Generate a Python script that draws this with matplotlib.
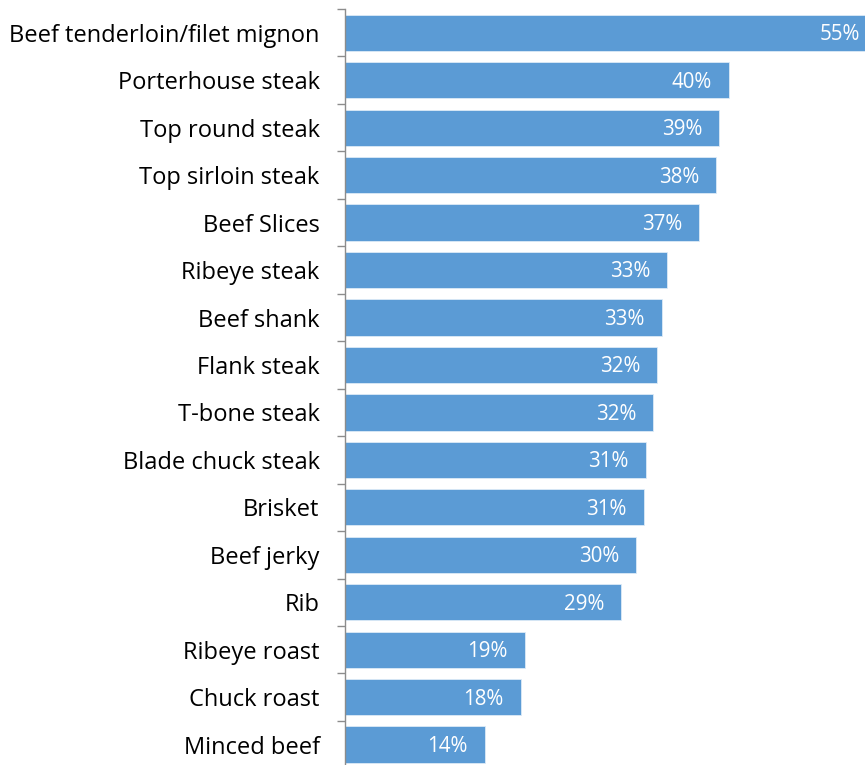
import matplotlib
matplotlib.use("Agg")
import matplotlib.pyplot as plt

# cuts, top to bottom
cuts = ["Beef tenderloin/filet mignon", "Porterhouse steak", "Top round steak",
        "Top sirloin steak", "Beef Slices", "Ribeye steak", "Beef shank",
        "Flank steak", "T-bone steak", "Blade chuck steak", "Brisket",
        "Beef jerky", "Rib", "Ribeye roast", "Chuck roast", "Minced beef"]
# share in % (labels are rounded)
shares = [55.0, 39.7, 38.7, 38.4, 36.6, 33.3, 32.75, 32.3, 31.9, 31.1,
          30.9, 30.1, 28.55, 18.6, 18.2, 14.5]
labels = ["55%", "40%", "39%", "38%", "37%", "33%", "33%", "32%", "32%",
          "31%", "31%", "30%", "29%", "19%", "18%", "14%"]

plt.rcParams['font.family'] = ['Open Sans', 'DejaVu Sans']

fig = plt.figure(figsize=(8.65, 7.65), dpi=100)
ax = fig.add_axes([0.3983, -0.0044, 0.6017, 0.9926])

ypos = list(range(len(cuts)))
ax.barh(ypos, shares, height=0.765, color='#5B9BD5', edgecolor='#DDEBF7', linewidth=0.6)

for y, v, lab in zip(ypos, shares, labels):
    ax.text(v - 1.76, y + 0.04, lab, ha='right', va='center', color='white',
            fontsize=14.8, clip_on=False)

ax.set_xlim(0, 53.74)
ax.set_ylim(len(cuts) - 0.5, -0.5)

# ticks sit on the category boundaries, labels in the middle
ax.set_yticks([i + 0.5 for i in range(-1, len(cuts))], minor=False)
ax.set_yticklabels([])
ax.set_yticks(ypos, minor=True)
ax.set_yticklabels(cuts, minor=True, fontsize=17)
ax.tick_params(axis='y', which='major', length=6, color='#8C8C8C', width=1)
ax.tick_params(axis='y', which='minor', length=0, pad=18)
ax.set_xticks([])

for s in ['top', 'right', 'bottom']:
    ax.spines[s].set_visible(False)
ax.spines['left'].set_color('#8C8C8C')
ax.spines['left'].set_linewidth(1)

fig.savefig('out.png', dpi=100)
